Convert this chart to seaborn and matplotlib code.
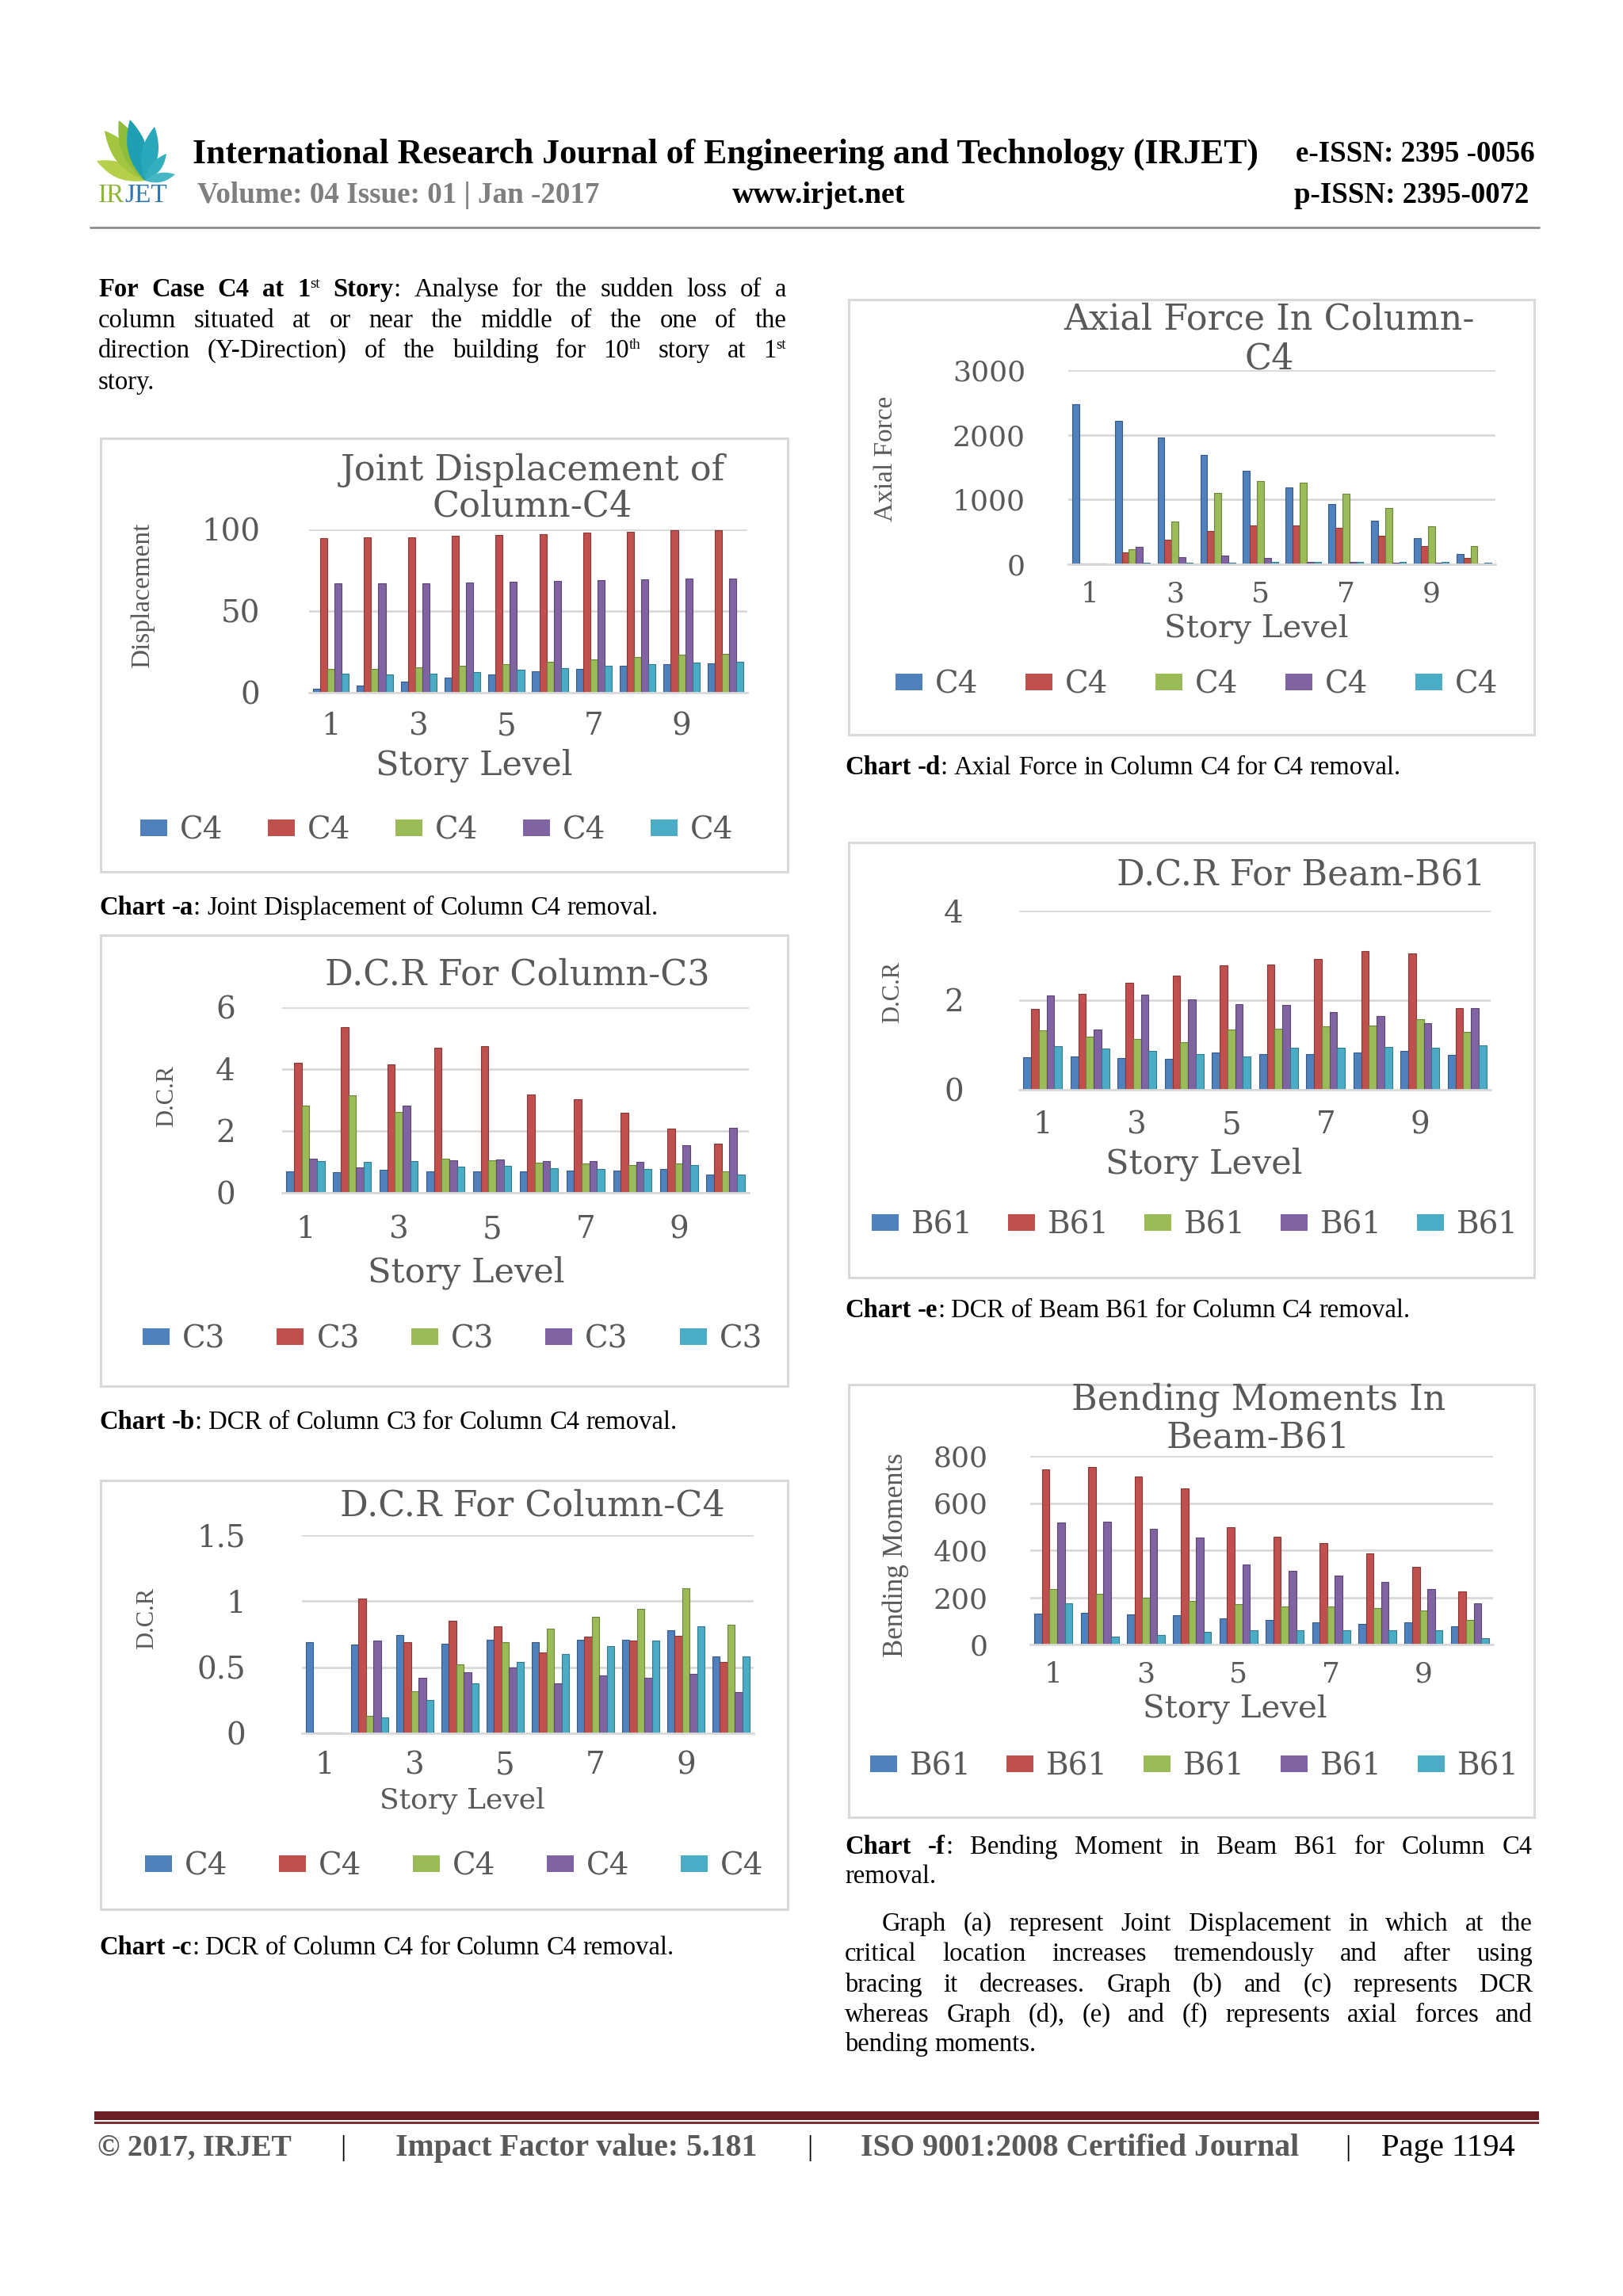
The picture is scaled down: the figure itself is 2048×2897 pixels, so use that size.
import re
import numpy as np
import pandas as pd
import matplotlib
matplotlib.use("Agg")
import matplotlib.pyplot as plt
import matplotlib.colors as mcolors
from matplotlib.patches import Rectangle, Polygon, Patch
from matplotlib.lines import Line2D
import seaborn as sns

# ---------------- values ----------------
stories = [str(i) for i in range(1, 11)]
tick_stories = ["1", "3", "5", "7", "9"]

# Chart a - joint displacement, column C4
disp_1 = [2.2, 4.3, 7.0, 9.0, 11.0, 13.3, 14.7, 16.3, 17.6, 18.2]
disp_2 = [94.6, 95.2, 95.3, 96.2, 96.7, 97.0, 97.9, 98.6, 99.3, 99.5]
disp_3 = [14.5, 14.7, 15.4, 16.3, 17.6, 18.7, 20.6, 21.8, 23.2, 24.0]
disp_4 = [66.8, 67.0, 67.1, 67.5, 67.8, 68.3, 69.0, 69.4, 70.0, 70.0]
disp_5 = [11.6, 11.4, 11.8, 12.6, 14.0, 14.9, 16.3, 17.3, 18.3, 19.0]

# Chart b - DCR column C3
dcr_c3_1 = [0.69, 0.67, 0.74, 0.68, 0.70, 0.69, 0.72, 0.72, 0.78, 0.58]
dcr_c3_2 = [4.20, 5.37, 4.16, 4.68, 4.74, 3.19, 3.02, 2.59, 2.08, 1.60]
dcr_c3_3 = [2.81, 3.15, 2.61, 1.10, 1.05, 0.98, 0.94, 0.91, 0.94, 0.69]
dcr_c3_4 = [1.11, 0.81, 2.82, 1.05, 1.07, 1.03, 1.03, 1.01, 1.53, 2.10]
dcr_c3_5 = [1.03, 1.00, 1.03, 0.85, 0.86, 0.79, 0.78, 0.77, 0.91, 0.60]

# Chart c - DCR column C4
dcr_c4_1 = [0.69, 0.67, 0.745, 0.68, 0.71, 0.69, 0.71, 0.71, 0.78, 0.58]
dcr_c4_2 = [0.005, 1.02, 0.69, 0.85, 0.81, 0.61, 0.73, 0.70, 0.74, 0.54]
dcr_c4_3 = [0.005, 0.13, 0.32, 0.52, 0.69, 0.79, 0.88, 0.94, 1.10, 0.82]
dcr_c4_4 = [0.005, 0.70, 0.42, 0.46, 0.50, 0.38, 0.44, 0.42, 0.45, 0.31]
dcr_c4_5 = [0.005, 0.12, 0.25, 0.38, 0.54, 0.60, 0.66, 0.70, 0.81, 0.58]

# Chart d - axial force, column C4
axial_1 = [2470, 2215, 1955, 1695, 1440, 1185, 925, 670, 410, 157]
axial_2 = [10, 187, 378, 510, 596, 596, 561, 435, 283, 104]
axial_3 = [10, 235, 656, 1108, 1283, 1257, 1090, 870, 587, 283]
axial_4 = [10, 265, 109, 135, 100, 35, 35, 30, 22, 13]
axial_5 = [8, 22, 22, 30, 35, 35, 39, 35, 35, 22]

# Chart e - DCR beam B61
dcr_b61_1 = [0.72, 0.75, 0.71, 0.69, 0.83, 0.80, 0.80, 0.83, 0.86, 0.78]
dcr_b61_2 = [1.80, 2.14, 2.39, 2.54, 2.77, 2.80, 2.92, 3.09, 3.04, 1.82]
dcr_b61_3 = [1.33, 1.19, 1.13, 1.06, 1.35, 1.37, 1.42, 1.44, 1.57, 1.30]
dcr_b61_4 = [2.11, 1.35, 2.13, 2.01, 1.92, 1.89, 1.74, 1.64, 1.48, 1.82]
dcr_b61_5 = [0.97, 0.92, 0.86, 0.80, 0.74, 0.94, 0.94, 0.95, 0.94, 0.99]

# Chart f - bending moments, beam B61
bm_1 = [131, 136, 129, 125, 112, 104, 94, 89, 94, 77]
bm_2 = [742, 753, 713, 661, 498, 458, 430, 386, 330, 226]
bm_3 = [236, 216, 198, 184, 170, 162, 161, 153, 144, 105]
bm_4 = [516, 522, 490, 453, 340, 313, 294, 266, 235, 174]
bm_5 = [176, 33, 41, 54, 62, 62, 62, 62, 62, 27]

left_para = [
    "*For Case C4 at 1^{st} Story*: Analyse for the sudden loss of a",
    "column situated at or near the middle of the one of the",
    "direction (Y-Direction) of the building for 10^{th} story at 1^{st}",
    "story.",
]
right_para = [
    "Graph (a) represent Joint Displacement in which at the",
    "critical location increases tremendously and after using",
    "bracing it decreases. Graph (b) and (c) represents DCR",
    "whereas Graph (d), (e) and (f) represents axial forces and",
    "bending moments.",
]

# ---------------- page setup ----------------
sns.set_theme(style="white")
plt.rcParams["font.family"] = ["DejaVu Serif"]

W, H = 2048, 2897
fig = plt.figure(figsize=(W / 100, H / 100), dpi=100)
fig.patch.set_facecolor("white")
renderer = fig.canvas.get_renderer()

palette = ["#4F81BD", "#C0504D", "#9BBB59", "#8064A2", "#4BACC6"]
text_gray = "#595959"
grid_gray = "#D9D9D9"
SERIF = ["Liberation Serif", "DejaVu Serif"]
BODY_PT = 23.5


def fx(x):
    return x / W


def fy(y):
    return 1 - y / H


def place(x, cy, s, size, ha="left", **kw):
    em = size * 100 / 72
    return fig.text(fx(x), fy(cy + 0.33 * em), s, fontsize=size, ha=ha, va="baseline", **kw)


def fit(x0, x1, cy, s, **kw):
    t = place(x0, cy, s, 20, **kw)
    w = t.get_window_extent(renderer).width
    t.remove()
    return place(x0, cy, s, 20 * (x1 - x0) / w, **kw)


def parse(line):
    bold = False
    words = []
    for tok in line.split():
        segs = []
        for part in re.split(r"(\*|\^\{[^}]*\})", tok):
            if part == "*":
                bold = not bold
            elif part.startswith("^{"):
                segs.append((part[2:-1], False, True))
            elif part:
                segs.append((part, bold, False))
        words.append(segs)
    return words


def body_line(x0, x1, cy, line, size=BODY_PT, justify=True, color="black"):
    words = parse(line)
    n = len(words)
    for _ in range(4):
        em = size * 100 / 72
        placed, widths = [], []
        for segs in words:
            row = []
            for s, bold, sup in segs:
                t = fig.text(0, 0, s, fontsize=size * (0.58 if sup else 1),
                             fontweight="bold" if bold else "normal",
                             color=color, va="baseline", ha="left", family=SERIF)
                row.append((t, t.get_window_extent(renderer).width, sup))
            placed.append(row)
            widths.append(sum(r[1] for r in row))
        total = sum(widths)
        gap = (x1 - x0 - total) / (n - 1) if (justify and n > 1) else 0.25 * em
        if gap >= 0.18 * em:
            break
        for row in placed:
            for t, _, _ in row:
                t.remove()
        size *= (x1 - x0) / (total + 0.25 * em * (n - 1))
    base = cy + 0.33 * em
    x = x0
    for row in placed:
        for t, w, sup in row:
            t.set_position((fx(x), fy(base - 0.33 * em if sup else base)))
            x += w
        x += gap


def chart(series, label, title, ylabel, yticks, ylabels, L):
    bx0, by0, bx1, by1 = L["box"]
    fig.add_artist(Rectangle((fx(bx0), fy(by1)), (bx1 - bx0) / W, (by1 - by0) / H,
                             transform=fig.transFigure, fill=False, ec=grid_gray, lw=2.2))
    x0, x1, ytop, ybot = L["plot"]
    ax = fig.add_axes([fx(x0), fy(ybot), (x1 - x0) / W, (ybot - ytop) / H])
    df = pd.DataFrame({
        "Story": stories * len(series),
        "Series": [f"s{k}" for k in range(len(series)) for _ in stories],
        "Value": np.concatenate(series),
    })
    sns.barplot(data=df, x="Story", y="Value", hue="Series", order=stories,
                palette=palette, saturation=1, width=0.82, errorbar=None,
                legend=False, ax=ax)
    for cont in ax.containers:
        for bar in cont:
            dark = np.array(mcolors.to_rgb(bar.get_facecolor())) * 0.7
            bar.set_edgecolor(dark)
            bar.set_linewidth(0.8)

    tick_fs = L.get("tick_fs", 28)
    ax.set_facecolor("none")
    ax.set_xlim(-0.5, len(stories) - 0.5)
    ax.set_ylim(yticks[0], yticks[-1])
    ax.set_yticks(yticks)
    ax.set_yticklabels(ylabels)
    ax.set_xticks([stories.index(s) for s in tick_stories])
    ax.set_xticklabels(tick_stories)
    ax.yaxis.grid(True, color=grid_gray, lw=2)
    ax.xaxis.grid(False)
    ax.set_axisbelow(True)
    sns.despine(ax=ax, left=True)
    ax.spines["bottom"].set_color(grid_gray)
    ax.spines["bottom"].set_linewidth(2)
    em = tick_fs * 100 / 72
    ax.tick_params(axis="y", length=0, labelsize=tick_fs, labelcolor=text_gray,
                   pad=(x0 - L["ytick_right"]) * 0.72)
    ax.tick_params(axis="x", length=0, labelsize=tick_fs, labelcolor=text_gray,
                   pad=(L["xtick_y"] - ybot - 0.40 * em) * 0.72)

    ax.set_xlabel("Story Level", fontsize=L.get("xlabel_fs", 31), color=text_gray)
    ax.xaxis.label.set_va("center")
    ax.xaxis.set_label_coords(fx(L["xlabel"][0]), fy(L["xlabel"][1]), transform=fig.transFigure)
    ax.set_ylabel(ylabel, fontsize=L.get("ylabel_fs", 23), color=text_gray, family=SERIF)
    ax.yaxis.label.set_va("center")
    ax.yaxis.set_label_coords(fx(L["ylabel"][0]), fy(L["ylabel"][1]), transform=fig.transFigure)

    tx, ty = L["title"]
    fig.text(fx(tx), fy(ty), "\n".join(title), ha="center", va="center",
             multialignment="center", linespacing=L.get("title_ls", 1.15),
             fontsize=L.get("title_fs", 32), color=text_gray)

    # legend: five entries, all carrying the member name
    leg_fs = 28
    lem = leg_fs * 100 / 72
    tmp = fig.text(0, 0, label, fontsize=leg_fs)
    lw = tmp.get_window_extent(renderer).width
    tmp.remove()
    colsp = (L["legend_span"] - 5 * (34 + 16 + lw)) / 4 / lem
    handles = [Patch(fc=c, ec="none") for c in palette]
    fig.legend(handles, [label] * 5, loc="center",
               bbox_to_anchor=(fx(L["legend"][0]), fy(L["legend"][1])),
               ncol=5, frameon=False, fontsize=leg_fs, labelcolor=text_gray,
               handlelength=34 / lem, handleheight=18 / lem, handletextpad=16 / lem,
               columnspacing=colsp, borderpad=0, borderaxespad=0)
    return ax


LAY_A = dict(box=(127, 553, 994, 1100), plot=(390, 943, 668, 874), ytick_right=328,
             xtick_y=914, xlabel=(598, 966), ylabel=(180, 751), ylabel_fs=24,
             title=(672, 616), title_ls=1.08, legend=(551, 1048), legend_span=748)
LAY_B = dict(box=(127, 1180, 994, 1749), plot=(356, 945, 1271, 1505), ytick_right=297,
             xtick_y=1549, xlabel=(588, 1606), ylabel=(211, 1383), ylabel_fs=22,
             title=(653, 1230), legend=(571, 1690), legend_span=782)
LAY_C = dict(box=(127, 1868, 994, 2409), plot=(381, 951, 1937, 2187), ytick_right=310,
             xtick_y=2225, xlabel=(583, 2272), ylabel=(186, 2042), xlabel_fs=26, ylabel_fs=22,
             title=(672, 1900), legend=(573, 2355), legend_span=780)
LAY_D = dict(box=(1071, 378, 1936, 927), plot=(1348, 1887, 467, 712), ytick_right=1294,
             xtick_y=747, xlabel=(1585, 794), ylabel=(1118, 579), ylabel_fs=24,
             tick_fs=26, xlabel_fs=29,
             title=(1602, 428), title_ls=1.18, legend=(1510, 864), legend_span=761)
LAY_E = dict(box=(1071, 1063, 1936, 1612), plot=(1286, 1881, 1149, 1375), ytick_right=1216,
             xtick_y=1417, xlabel=(1519, 1469), ylabel=(1127, 1252), ylabel_fs=22,
             title=(1642, 1104), legend=(1508, 1546), legend_span=816)
LAY_F = dict(box=(1071, 1747, 1936, 2293), plot=(1300, 1884, 1837, 2075), ytick_right=1247,
             xtick_y=2110, xlabel=(1558, 2157), ylabel=(1130, 1962), ylabel_fs=25,
             tick_fs=26, xlabel_fs=29,
             title=(1588, 1790), title_ls=1.15, legend=(1507, 2229), legend_span=819)

chart([disp_1, disp_2, disp_3, disp_4, disp_5], "C4",
      ["Joint Displacement of", "Column-C4"], "Displacement",
      [0, 50, 100], ["0", "50", "100"], LAY_A)
chart([dcr_c3_1, dcr_c3_2, dcr_c3_3, dcr_c3_4, dcr_c3_5], "C3",
      ["D.C.R For Column-C3"], "D.C.R",
      [0, 2, 4, 6], ["0", "2", "4", "6"], LAY_B)
chart([dcr_c4_1, dcr_c4_2, dcr_c4_3, dcr_c4_4, dcr_c4_5], "C4",
      ["D.C.R For Column-C4"], "D.C.R",
      [0, 0.5, 1.0, 1.5], ["0", "0.5", "1", "1.5"], LAY_C)
chart([axial_1, axial_2, axial_3, axial_4, axial_5], "C4",
      ["Axial Force In Column-", "C4"], "Axial Force",
      [0, 1000, 2000, 3000], ["0", "1000", "2000", "3000"], LAY_D)
chart([dcr_b61_1, dcr_b61_2, dcr_b61_3, dcr_b61_4, dcr_b61_5], "B61",
      ["D.C.R For Beam-B61"], "D.C.R",
      [0, 2, 4], ["0", "2", "4"], LAY_E)
chart([bm_1, bm_2, bm_3, bm_4, bm_5], "B61",
      ["Bending Moments In", "Beam-B61"], "Bending Moments",
      [0, 200, 400, 600, 800], ["0", "200", "400", "600", "800"], LAY_F)

# ---------------- header ----------------
base = (183, 228)
leaves = [((122, 203), "#B7D04C"), ((132, 165), "#A4C540"), ((150, 152), "#8FBC3A"),
          ((164, 151), "#1E9FB2"), ((195, 160), "#28A8BA"), ((210, 194), "#33AFBF"),
          ((221, 220), "#46B8C5")]
for (tx, ty), col in leaves:
    vx, vy = tx - base[0], ty - base[1]
    length = np.hypot(vx, vy)
    nx, ny = -vy / length, vx / length
    t = np.linspace(0, 1, 30)
    half = 0.15 * length * np.sin(np.pi * t) ** 0.9
    side1 = [(base[0] + vx * a + nx * h, base[1] + vy * a + ny * h) for a, h in zip(t, half)]
    side2 = [(base[0] + vx * a - nx * h, base[1] + vy * a - ny * h) for a, h in zip(t[::-1], half[::-1])]
    pts = [(fx(x), fy(y)) for x, y in side1 + side2]
    fig.add_artist(Polygon(pts, closed=True, fc=col, ec="none", transform=fig.transFigure))
place(124, 244, "IR", 24, color="#8DB63C", family=SERIF)
place(157, 244, "JET", 24, color="#2E75B6", family=SERIF)

HEAD = dict(family=SERIF, fontweight="bold")
fit(243, 1587, 191, "International Research Journal of Engineering and Technology (IRJET)", color="black", **HEAD)
fit(1635, 1936, 192, "e-ISSN: 2395 -0056", color="black", **HEAD)
fit(249, 757, 244, "Volume: 04 Issue: 01 | Jan -2017", color="#7F7F7F", **HEAD)
fit(924, 1142, 244, "www.irjet.net", color="black", **HEAD)
fit(1633, 1928, 244, "p-ISSN: 2395-0072", color="black", **HEAD)
fig.add_artist(Line2D([fx(114), fx(1942)], [fy(287), fy(287)], color="#8C8C8C", lw=2,
                      transform=fig.transFigure))

# ---------------- body text ----------------
for i, line in enumerate(left_para):
    body_line(124, 992, [363, 402, 440, 480][i], line, justify=i < len(left_para) - 1)

body_line(125, 992, 1143, "*Chart -a*: Joint Displacement of Column C4 removal.", justify=False)
body_line(125, 992, 1792, "*Chart -b*: DCR of Column C3 for Column C4 removal.", justify=False)
body_line(125, 992, 2455, "*Chart -c*: DCR of Column C4 for Column C4 removal.", justify=False)
body_line(1066, 1936, 966, "*Chart -d*: Axial Force in Column C4 for C4 removal.", justify=False)
body_line(1066, 1936, 1651, "*Chart -e*: DCR of Beam B61 for Column C4 removal.", justify=False)
body_line(1066, 1934, 2328, "*Chart -f*: Bending Moment in Beam B61 for Column C4")
body_line(1066, 1934, 2365, "removal.", justify=False)

for i, line in enumerate(right_para):
    x0 = 1113 if i == 0 else 1066
    body_line(x0, 1934, [2425, 2463, 2502, 2540, 2577][i], line,
              justify=i < len(right_para) - 1)

# ---------------- footer ----------------
fig.add_artist(Rectangle((fx(119), fy(2675)), (1942 - 119) / W, 11 / H, fc="#6A1F24", ec="none",
                         transform=fig.transFigure))
fig.add_artist(Rectangle((fx(119), fy(2680)), (1942 - 119) / W, 3 / H, fc="#7B3035", ec="none",
                         transform=fig.transFigure))
FOOT = dict(family=SERIF, fontweight="bold")
fit(123, 367, 2707, "\u00a9 2017, IRJET", color="#595959", **FOOT)
fit(499, 955, 2707, "Impact Factor value: 5.181", color="#595959", **FOOT)
fit(1086, 1639, 2707, "ISO 9001:2008 Certified Journal", color="#595959", **FOOT)
fit(1743, 1912, 2707, "Page 1194", color="black", family=SERIF)
for xb in (433, 1022, 1701):
    place(xb, 2707, "|", 26, ha="center", color="black", family=SERIF)

fig.savefig("out.png", dpi=100, facecolor="white")
